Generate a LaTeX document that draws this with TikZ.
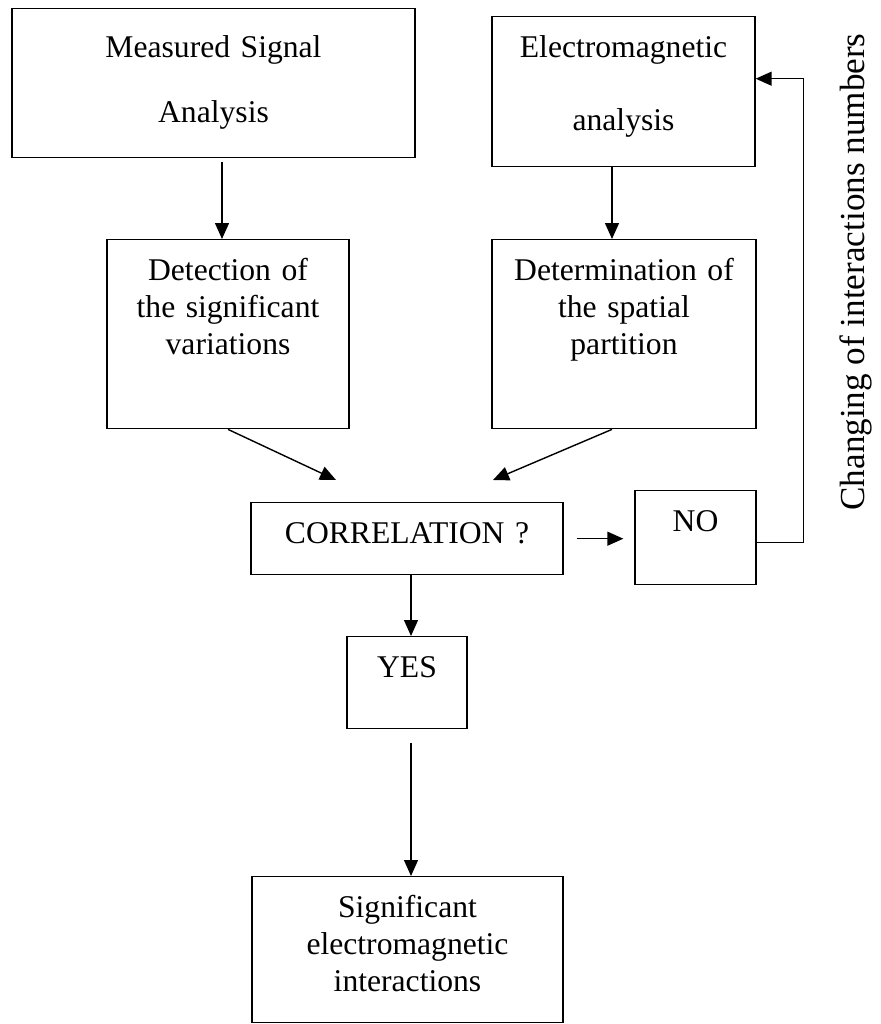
\documentclass[tikz,border=0pt]{standalone}
\usepackage{fontspec}
\setmainfont{Liberation Serif}
\usetikzlibrary{arrows.meta}

\begin{document}
\begin{tikzpicture}[x=0.02cm,y=-0.02cm,font=\fontsize{18}{21}\selectfont,
line width=0.8pt,>={Triangle[length=3.2mm,width=2.8mm]}]
\tikzstyle{block}=[draw,rectangle,inner sep=0pt,anchor=north,
align=center,text height=0.82cm]
\useasboundingbox (0,0) rectangle (880,1024);

\node[block,text width=8.06cm,text height=0.98cm,text depth=2cm] at (213.5,8) (meas) {Measured Signal\\[16pt] Analysis};
\node[block,text width=5.26cm,text depth=2.18cm] at (623.5,16) (em) {Electromagnetic\\[20.5pt] analysis};
\node[block,text width=4.84cm,text depth=2.96cm] at (228,239) (det) {Detection of\\ the significant\\ variations};
\node[block,text width=5.28cm,text depth=2.96cm] at (624,239) (part) {Determination of\\ the spatial\\ partition};
\node[block,text width=6.24cm,text depth=0.62cm] at (407,502) (corr) {CORRELATION ?};
\node[block,text width=2.42cm,text depth=1.06cm] at (695.5,490) (no) {NO};
\node[block,text width=2.4cm,text depth=1.02cm] at (407,636) (yes) {YES};
\node[block,text width=6.22cm,text depth=2.1cm] at (407.5,876) (sig) {Significant\\ electromagnetic\\ interactions};
\node[rotate=90,font=\fontsize{20}{24}\selectfont] at (856,272) (chg) {Changing of interactions numbers};

\coordinate (c1) at (336,480);
\coordinate (c2) at (493,480);

\draw[->] ([xshift=0.17cm,yshift=-0.08cm]meas.south) -- ([xshift=0.17cm]meas.south |- det.north);
\draw[->] ([xshift=-0.23cm]em.south) -- ([xshift=-0.23cm]em.south |- part.north);
\draw[->] (det.south) -- (c1);
\draw[->] ([xshift=-0.24cm]part.south) -- (c2);
\draw[->,shorten <=0.26cm,shorten >=0.22cm] (corr.east) -- (corr.east -| no.west);
\draw[->] ([yshift=-0.1cm]no.east) -- ++(0.94cm,0) |- ([yshift=0.26cm]em.east);
\draw[->] ([xshift=0.08cm]corr.south) -- ([xshift=0.08cm]corr.south |- yes.north);
\draw[->] ([xshift=0.08cm,yshift=-0.28cm]yes.south) -- ([xshift=0.08cm]yes.south |- sig.north);

\end{tikzpicture}
\end{document}
